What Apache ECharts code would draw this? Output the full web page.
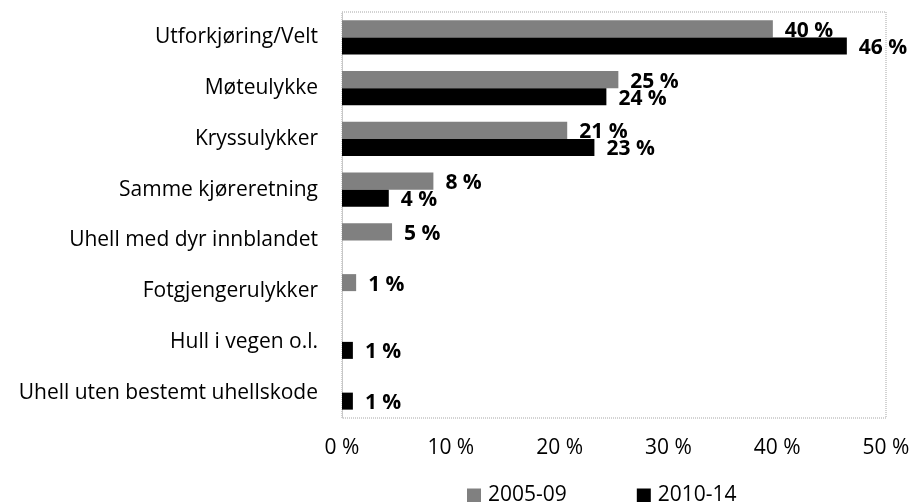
<!DOCTYPE html>
<html>
<head>
<meta charset="utf-8">
<script src="https://cdn.jsdelivr.net/npm/echarts@6/dist/echarts.min.js"></script>
<style>
  html, body { margin: 0; padding: 0; background: #fff; }
  #chart { width: 913px; height: 502px; }
</style>
</head>
<body>
<div id="chart"></div>
<script>
// kategorier, øverst til nederst
const categories = [
  'Utforkjøring/Velt',
  'Møteulykke',
  'Kryssulykker',
  'Samme kjøreretning',
  'Uhell med dyr innblandet',
  'Fotgjengerulykker',
  'Hull i vegen o.l.',
  'Uhell uten bestemt uhellskode'
]
const seriesNames = ['2005-09', '2010-14']
// andel i prosent
const values0509 = [39.6, 25.4, 20.7, 8.4, 4.6, 1.3, 0, 0]
const values1014 = [46.4, 24.3, 23.2, 4.3, 0, 0, 1.0, 1.0]
const xTicks = [0, 10, 20, 30, 40, 50]

const font = '"Open Sans", "Noto Sans", sans-serif'

const pctLabel = {
  show: true,
  position: 'right',
  distance: 12,
  offset: [0, 2],
  fontFamily: font,
  fontSize: 21,
  fontWeight: 'bold',
  color: '#000',
  formatter: p => (p.value ? Math.round(p.value) + ' %' : '')
}

const chart = echarts.init(document.getElementById('chart'))

chart.setOption({
  animation: false,
  textStyle: {fontFamily: font},
  grid: {
    left: 342,
    right: 27,
    top: 12,
    bottom: 84,
    show: true,
    borderColor: '#a6a6a6',
    borderWidth: 1,
    borderType: 'dotted',
    outerBoundsMode: 'none'
  },
  legend: {
    data: seriesNames,
    top: 480,
    left: 462,
    itemWidth: 14,
    itemHeight: 14,
    itemGap: 70,
    icon: 'rect',
    textStyle: {fontFamily: font, fontSize: 21, color: '#000', padding: [0, 0, 0, 2]}
  },
  xAxis: {
    type: 'value',
    min: xTicks[0],
    max: xTicks[xTicks.length - 1],
    interval: 10,
    splitLine: {show: false},
    axisLine: {show: false},
    axisTick: {show: false},
    axisLabel: {
      formatter: '{value} %',
      fontFamily: font,
      fontSize: 21,
      color: '#000',
      margin: 20
    }
  },
  yAxis: {
    type: 'category',
    data: categories,
    inverse: true,
    axisTick: {show: false},
    axisLine: {show: true, lineStyle: {color: '#c8c8c8'}},
    axisLabel: {
      fontFamily: font,
      fontSize: 21,
      color: '#000',
      margin: 24
    }
  },
  series: [
    {
      name: seriesNames[0],
      type: 'bar',
      data: values0509,
      barCategoryGap: '33%',
      barGap: '0%',
      itemStyle: {color: '#808080'},
      label: pctLabel
    },
    {
      name: seriesNames[1],
      type: 'bar',
      data: values1014,
      barCategoryGap: '33%',
      barGap: '0%',
      itemStyle: {color: '#000000'},
      label: pctLabel
    }
  ]
})
</script>
</body>
</html>
